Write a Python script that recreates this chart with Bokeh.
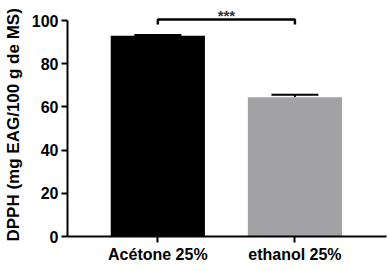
import numpy as np
from bokeh.plotting import figure
from bokeh.models import Range1d, FixedTicker, Whisker, TeeHead, ColumnDataSource
from bokeh.core.properties import value
from bokeh.embed import file_html
from bokeh.resources import INLINE

categories = ["Acétone 25%", "ethanol 25%"]
means = [93.0, 64.5]
errors = [0.3, 1.2]
bar_colors = ["#000000", "#a2a2a4"]
y_ticks = [0, 20, 40, 60, 80, 100]
y_label = "DPPH (mg EAG/100 g de MS)"
sig_label = "***"
sig_y = 100.5
sig_drop = 2.3

FONT = "Liberation Sans"
xs = np.arange(1, len(categories) + 1)

p = figure(width=389, height=271, output_backend="svg", toolbar_location=None,
           x_range=Range1d(0.341, 2.668), y_range=Range1d(0, 105.6),
           min_border_left=61, min_border_right=3, min_border_top=8, min_border_bottom=35)
p.outline_line_color = None
p.xgrid.visible = False
p.ygrid.visible = False
p.background_fill_color = "white"
p.border_fill_color = "white"

src = ColumnDataSource(dict(x=xs, top=means, color=bar_colors,
                            upper=[m + e for m, e in zip(means, errors)], lower=means))
p.vbar(x="x", top="top", width=0.687, bottom=0, fill_color="color", line_color=None, source=src)

w = Whisker(base="x", upper="upper", lower="lower", source=src, line_color="black", line_width=2,
            upper_head=TeeHead(size=47, line_color="black", line_width=2), lower_head=None)
p.add_layout(w)

# significance bracket
p.line(x=[xs[0], xs[0], xs[1], xs[1]], y=[sig_y - sig_drop, sig_y, sig_y, sig_y - sig_drop],
       line_color="black", line_width=2.5)
p.text(x=[(xs[0] + xs[1]) / 2], y=[sig_y + 1.8], text=[sig_label], text_align="center",
       text_baseline="alphabetic", text_font=value(FONT), text_font_size="15px",
       text_font_style="bold", text_color="#333333")

# axes
p.xaxis.ticker = FixedTicker(ticks=list(xs))
p.xaxis.major_label_overrides = {int(x): c for x, c in zip(xs, categories)}
p.yaxis.ticker = FixedTicker(ticks=y_ticks)
p.yaxis.bounds = (0, 100)
for ax in (p.xaxis, p.yaxis):
    ax.axis_line_width = 2
    ax.major_tick_line_width = 2
    ax.major_tick_out = 6
    ax.major_tick_in = 0
    ax.minor_tick_line_color = None
    ax.major_label_text_font = FONT
    ax.major_label_text_font_style = "bold"
    ax.major_label_text_color = "black"
    ax.axis_line_color = "black"
    ax.major_tick_line_color = "black"
p.xaxis.major_label_text_font_size = "16px"
p.yaxis.major_label_text_font_size = "16px"
p.xaxis.major_label_standoff = 3
p.yaxis.major_label_standoff = 3
p.yaxis.axis_label = y_label + "\u00a0"
p.yaxis.axis_label_text_font = FONT
p.yaxis.axis_label_text_font_style = "bold"
p.yaxis.axis_label_text_font_size = "17px"
p.yaxis.axis_label_text_color = "black"
p.yaxis.axis_label_standoff = 6

open("out.html", "w").write(file_html(p, INLINE))
